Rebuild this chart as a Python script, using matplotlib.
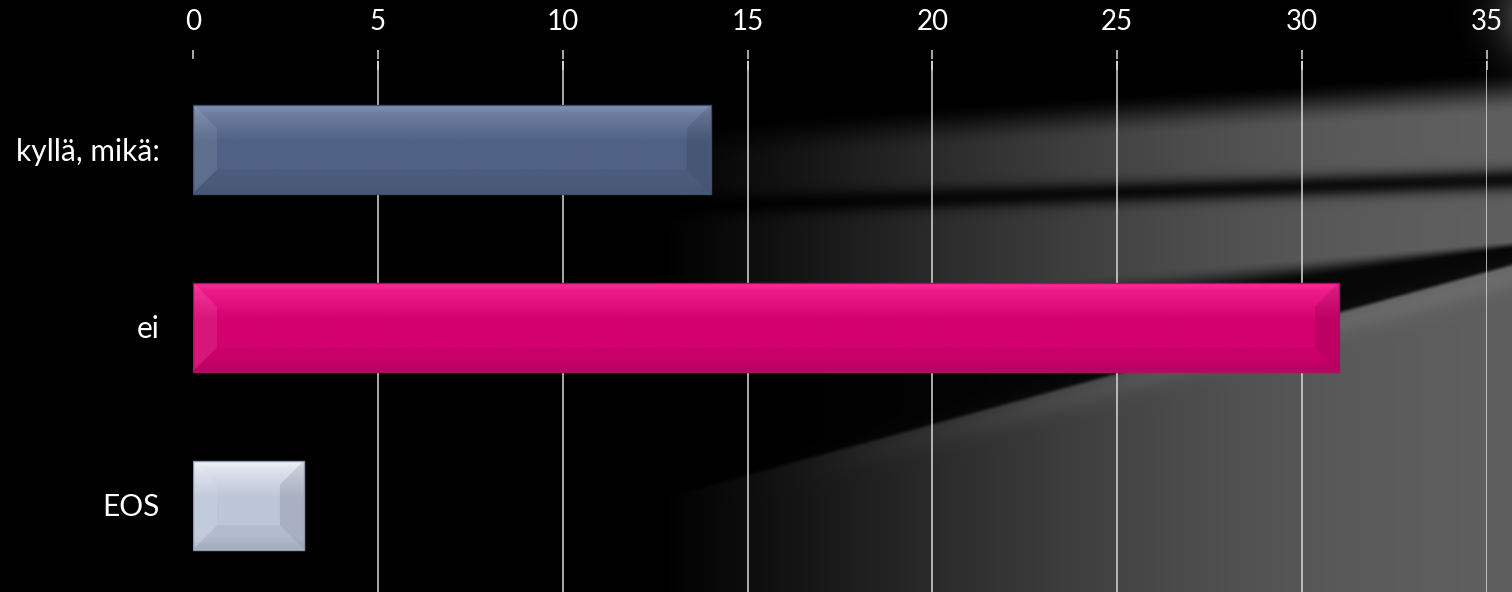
import numpy as np
import matplotlib
matplotlib.use("Agg")
import matplotlib.pyplot as plt
from matplotlib.patches import Polygon, Rectangle
from matplotlib.colors import to_rgb

# ---- data ----
categories = ["kyllä, mikä:", "ei", "EOS"]
values = [14, 31, 3]
xticks = [0, 5, 10, 15, 20, 25, 30, 35]

# ---- style ----
bar_colors = ["#4F6184", "#D4006F", "#BDC6D8"]
top_colors = ["#8494B7", "#FF2E9C", "#F4F7FC"]
bottom_colors = ["#4A5B7C", "#C3006A", "#AEB8CC"]
edge_colors = ["#3E4E6E", "#A8105E", "#8D97AB"]

plt.rcParams['font.family'] = ['Lato', 'DejaVu Sans']

W, H = 1512, 592
fig = plt.figure(figsize=(W / 100, H / 100), dpi=100)
fig.patch.set_facecolor("black")

# ---- decorative background ----
bg = fig.add_axes([0, 0, 1, 1], zorder=0)
X, Y = np.meshgrid(np.arange(W) + 0.5, np.arange(H) + 0.5)


def g(d, s):
    return np.exp(-0.5 * (d / s) ** 2)


def sstep(t):
    t = np.clip(t, 0, 1)
    return t * t * (3 - 2 * t)


base = 0.37 * sstep((X - 650) / 850) ** 0.6
tE = 100 - 0.06 * (X - 1000)
top_mask = sstep((Y - tE) / 45)
c1 = 203 - 0.0325 * (X - 800)
streak1 = 1 - 0.85 * g(Y - c1, 8)
wt = 241 + 0.08 * (1512 - X)
yD = 264 + 0.275 * (1512 - X)
ramp = np.clip(0.35 * (yD - wt), 6, 40)
wedge = sstep((Y - wt) / ramp) * (1 - sstep((Y - yD + 2) / 6))
img = base * top_mask * streak1 * (1 - 0.92 * wedge)
img += 0.05 * g(Y - yD - 12, 10) * sstep((X - 700) / 400)
img += 0.33 * np.exp(-(((X - 1545) / 45) ** 2 + ((Y - 15) / 45) ** 2))
img = np.clip(img, 0, 1)
rgb = np.dstack([img, img, img])
bg.imshow(rgb, extent=(0, W, H, 0), aspect="auto", interpolation="bilinear")
bg.set_xlim(0, W)
bg.set_ylim(H, 0)
bg.axis("off")

# ---- main axes ----
left, right, top, bottom = 193, 1487, 60, 594
ax = fig.add_axes([left / W, 1 - bottom / H, (right - left) / W, (bottom - top) / H], zorder=1)
ax.set_facecolor("none")

ypos = np.arange(len(categories))
bars = ax.barh(ypos, values, height=0.5, color=bar_colors, zorder=3)
ax.set_xlim(0, 35)
ax.set_ylim(len(categories) - 0.5, -0.5)

# bevel / gradient decoration derived from each bar patch
p0 = ax.transData.transform((0, 0))
p1 = ax.transData.transform((1, 1))
sx = abs(p1[0] - p0[0])
sy = abs(p1[1] - p0[1])
inset = 24
dx, dy = inset / sx, inset / sy


def grad(c_top, c_base, c_bot, n=200):
    t = np.linspace(0, 1, n)
    stops = [0.0, 0.10, 0.42, 0.86, 1.0]
    cols = [np.array(to_rgb(c_top)), np.array(to_rgb(c_top)) * 0.6 + np.array(to_rgb(c_base)) * 0.4,
            np.array(to_rgb(c_base)), np.array(to_rgb(c_base)), np.array(to_rgb(c_bot))]
    out = np.zeros((n, 1, 3))
    for k in range(3):
        out[:, 0, k] = np.interp(t, stops, [c[k] for c in cols])
    return out


for i, p in enumerate(bars.patches):
    x0, y0, w, h = p.get_x(), p.get_y(), p.get_width(), p.get_height()
    x1, y1 = x0 + w, y0 + h
    im = ax.imshow(grad(top_colors[i], bar_colors[i], bottom_colors[i]),
                   extent=(x0, x1, y1, y0), origin="upper", aspect="auto",
                   interpolation="bilinear", zorder=3.5)
    im.set_clip_path(p)
    ddx = min(dx, w / 2)
    ax.add_patch(Polygon([(x0, y0), (x0 + ddx, y0 + dy), (x0 + ddx, y1 - dy), (x0, y1)],
                         closed=True, facecolor="white", alpha=0.09, lw=0, zorder=4))
    ax.add_patch(Polygon([(x1, y0), (x1 - ddx, y0 + dy), (x1 - ddx, y1 - dy), (x1, y1)],
                         closed=True, facecolor="black", alpha=0.10, lw=0, zorder=4))
    ax.add_patch(Polygon([(x0, y1), (x0 + ddx, y1 - dy), (x1 - ddx, y1 - dy), (x1, y1)],
                         closed=True, facecolor="black", alpha=0.05, lw=0, zorder=4))
    ax.add_patch(Rectangle((x0, y0), w, h, fill=False, edgecolor=edge_colors[i],
                           lw=1.0, zorder=5))

ax.set_xlim(0, 35)
ax.set_ylim(len(categories) - 0.5, -0.5)

ax.xaxis.tick_top()
ax.set_xticks(xticks)
ax.set_xticklabels([str(t) for t in xticks])
ax.set_yticks(ypos)
ax.set_yticklabels(categories)
ax.set_axisbelow("line")
ax.grid(axis="x", color="#D9D9D9", lw=1.1)
ax.grid(axis="y", visible=False)

for s in ["right", "bottom"]:
    ax.spines[s].set_visible(False)
ax.spines["top"].set_color("black")
ax.spines["top"].set_linewidth(1.2)
ax.spines["left"].set_color("black")
ax.spines["left"].set_linewidth(1.6)

ax.tick_params(axis="x", direction="inout", length=14, width=1.1, color="#D9D9D9",
               labelcolor="white", labelsize=20, pad=11)
ax.tick_params(axis="y", length=0, labelcolor="white", labelsize=21.5, pad=24)

fig.savefig("out.png", dpi=100, facecolor=fig.get_facecolor())
